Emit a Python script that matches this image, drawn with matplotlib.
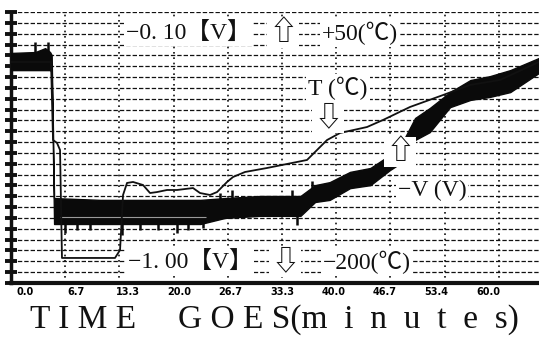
import numpy as np
import matplotlib
matplotlib.use('Agg')
import matplotlib.pyplot as plt

# ---- data ----
# -V trace (thick noisy band): time in minutes, upper / lower envelope in volts
v_time = [0, 3.0, 4.2, 4.8, 5.0, 5.3, 11.0, 17.1, 23.3, 26.3, 30.6, 35.6, 37.4,
          39.2, 41.7, 44.2, 46.6, 47.9, 49.7, 51.5, 54.0, 56.5, 58.9, 61.4, 64.9]
v_upper = [-0.236, -0.233, -0.220, -0.233, -0.243, -0.718, -0.724, -0.724, -0.724,
           -0.718, -0.711, -0.711, -0.675, -0.665, -0.631, -0.618, -0.575, -0.545,
           -0.452, -0.419, -0.366, -0.326, -0.313, -0.293, -0.253]
v_lower = [-0.293, -0.293, -0.293, -0.293, -0.299, -0.804, -0.804, -0.804, -0.804,
           -0.784, -0.777, -0.777, -0.731, -0.724, -0.685, -0.675, -0.625, -0.602,
           -0.525, -0.499, -0.416, -0.392, -0.382, -0.366, -0.303]

# spikes sticking out of the -V band: time in minutes, spike tip in volts
spike_time = [2.95, 4.55, 6.64, 8.12, 9.72, 13.65, 15.87, 18.08, 20.42, 21.77, 23.62,
              35.18, 25.71, 27.18, 34.56, 37.02]
spike_tip = [-0.200, -0.200, -0.834, -0.824, -0.824, -0.841, -0.824, -0.824, -0.834,
             -0.824, -0.817, -0.807, -0.700, -0.690, -0.690, -0.660]

# T trace (thin line): time in minutes, temperature in deg C
t_time = [0, 4.92, 5.17, 5.66, 6.03, 6.27, 12.79, 13.41, 13.78, 14.27, 15.01, 16.24,
          17.10, 17.96, 19.19, 20.42, 22.39, 23.25, 24.48, 25.34, 26.57, 27.31, 28.78,
          31.49, 36.41, 37.64, 38.87, 40.47, 43.79, 45.76, 49.08, 53.14, 56.46, 60.15, 64.94]
t_temp = [3.9, 3.9, -68.1, -70.8, -77.3, -176.9, -176.9, -169.6, -118.8, -107.7, -106.8,
          -109.6, -117.0, -116.1, -114.2, -114.2, -112.4, -117.0, -118.8, -116.1, -106.8,
          -102.2, -97.6, -93.9, -86.5, -77.3, -68.1, -61.6, -56.1, -49.6, -37.6, -26.6,
          -17.3, -12.7, 3.9]

tick_labels = ['0.0', '6.7', '13.3', '20.0', '26.7', '33.3', '40.0', '46.7', '53.4', '60.0']

v_range = (-1.00, -0.10)
t_range = (-200, 50)
x_max = 64.94

serif = ['Liberation Serif', 'Noto Sans CJK JP', 'DejaVu Sans']

fig = plt.figure(figsize=(5.39, 3.43), dpi=100)
ax = fig.add_axes([11 / 539, 1 - 283 / 343, 528 / 539, 271 / 343])
ax.set_xlim(0, x_max)
ax.set_ylim(*v_range)

# grid
grid_x = np.arange(0, x_max, 20 / 3)
grid_y = np.linspace(v_range[0], v_range[1], 26)
ax.set_xticks(grid_x)
ax.set_xticklabels([])
ax.set_yticks(grid_y)
ax.set_yticklabels([])
ax.set_axisbelow(True)
ax.xaxis.grid(True, color='#111', lw=1.2, linestyle=(0, (1, 2.2)))
ax.yaxis.grid(True, color='#111', lw=0.9, linestyle=(0, (3.5, 1.6)))
ax.tick_params(axis='x', which='major', length=0)
ax.tick_params(axis='y', which='major', direction='inout', length=8, width=2.8, color='#111')

lab_pos = [1.7 + 6.33 * k for k in range(len(tick_labels))]
ax.set_xticks(lab_pos, minor=True)
ax.set_xticklabels(tick_labels, minor=True, fontsize=7, fontweight='bold',
                   family='DejaVu Sans')
ax.tick_params(axis='x', which='minor', length=0, pad=3)

for s in ['top', 'right']:
    ax.spines[s].set_visible(False)
ax.spines['left'].set_linewidth(2.5)
ax.spines['bottom'].set_linewidth(3)
ax.spines['left'].set_color('#111')
ax.spines['bottom'].set_color('#111')

# -V band
ax.fill_between(v_time, v_lower, v_upper, color='#0a0a0a', lw=1.0, edgecolor='#0a0a0a', zorder=3)
mid = np.interp(spike_time, v_time, (np.array(v_upper) + np.array(v_lower)) / 2)
ax.vlines(spike_time, mid, spike_tip, color='#0a0a0a', lw=1.8, zorder=3)
# faint scan gap inside the low part of the band
gap_level = np.interp(11.0, v_time, v_lower) + 0.022
ax.hlines(gap_level, 6.0, 24.0, color='#9a9a9a', lw=0.8, zorder=3.5)

# T line on temperature scale
ax2 = ax.twinx()
ax2.set_ylim(*t_range)
ax2.set_xlim(0, x_max)
ax2.plot(t_time, t_temp, color='#111', lw=1.3, zorder=4)
ax2.set_yticks([])
for s in ax2.spines.values():
    s.set_visible(False)

box = dict(facecolor='white', edgecolor='none', pad=1.5)

def px(x, y):
    return ((x - 11) / 528, (283 - y) / 271)

texts = [
    ('−0. 10【V】', 188, 33, 17),
    ('⇧', 283, 33, 20),
    ('+50(℃)', 360, 33, 17),
    ('T (℃)', 338, 88, 17),
    ('⇩', 328, 118, 20),
    ('⇧', 400, 152, 20),
    ('−V (V)', 432, 190, 17),
    ('−1. 00【V】', 190, 262, 17),
    ('⇩', 285, 262, 20),
    ('−200(℃)', 367, 262, 17),
]
for s, x, y, fs in texts:
    fx, fy = px(x, y)
    ax2.text(fx, fy, s, transform=ax2.transAxes, ha='center', va='center',
             fontsize=fs, family=serif, color='#111', bbox=box, zorder=10)

fig.text(30 / 539, 1 - 320 / 343, 'T I M E     G O E S(m  i  n  u  t  e  s)',
         ha='left', va='center', fontsize=24, family=serif, color='#111')

fig.savefig('out.png', dpi=100)
